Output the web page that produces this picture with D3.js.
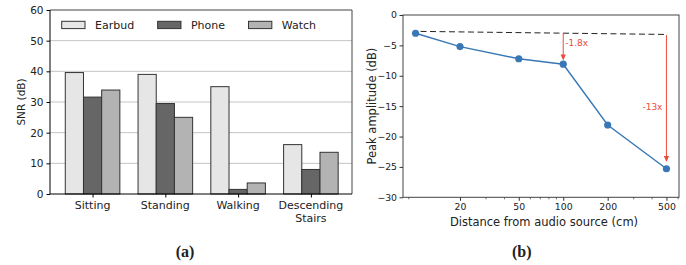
<!DOCTYPE html>
<html>
<head>
<meta charset="utf-8">
<script src="https://cdn.jsdelivr.net/npm/d3@7"></script>
<style>
  html, body { margin: 0; padding: 0; background: #fff; }
  svg { display: block; }
  text { font-family: "DejaVu Sans", sans-serif; fill: #222; }
</style>
</head>
<body>
<svg id="chart" width="686" height="265"></svg>
<script>
// ---------- data: panel (a) ----------
const categories = ["Sitting", "Standing", "Walking", "Descending\nStairs"];
const seriesNames = ["Earbud", "Phone", "Watch"];
const earbud = [39.6, 39.0, 35.0, 16.1];
const phone  = [31.6, 29.5, 1.5, 8.0];
const watch  = [33.9, 25.0, 3.6, 13.6];
const snrTicks = [0, 10, 20, 30, 40, 50, 60];

// ---------- data: panel (b) ----------
const distances = [10, 20, 50, 100, 200, 500];
const amplitude = [-3.0, -5.2, -7.2, -8.1, -18.1, -25.3];
const distTicks = [20, 50, 100, 200, 500];
const ampTicks = [0, -5, -10, -15, -20, -25, -30];
const refLineX = [10.8, 500];
const refLineY = [-2.7, -3.2];
const arrowX = [100, 500];
const arrowFrom = [-3.0, -3.3];
const arrowTo = [-7.5, -24.2];
const arrowLabels = ["-1.8x", "-13x"];

const captions = ["(a)", "(b)"];

const svg = d3.select("#chart");
const seriesData = [earbud, phone, watch];
const barFill = ["#e6e6e6", "#666666", "#b3b3b3"];
const red = "#ee4b3a";
const blue = "#3a78b5";

// ================= Panel (a) =================
{
  const L = 50, R = 352, T = 10, B = 194;
  const x = d3.scaleLinear().domain([-0.585, 3.565]).range([L, R]);
  const y = d3.scaleLinear().domain([0, 60]).range([B, T]);
  const g = svg.append("g");
  const bw = 0.25;

  // grid
  g.selectAll("line.grid").data(snrTicks.filter(d => d > 0 && d < 60)).join("line")
    .attr("x1", L).attr("x2", R)
    .attr("y1", d => y(d)).attr("y2", d => y(d))
    .attr("stroke", "#c4c4c4").attr("stroke-width", 1);

  // bars
  seriesData.forEach((vals, s) => {
    g.selectAll("rect.s" + s).data(vals).join("rect")
      .attr("x", (d, i) => x(i + (s - 1) * bw - bw / 2))
      .attr("width", (d, i) => x(bw) - x(0))
      .attr("y", d => y(d))
      .attr("height", d => y(0) - y(d))
      .attr("fill", barFill[s])
      .attr("stroke", "#333").attr("stroke-width", 1);
  });

  // spines
  g.append("line").attr("x1", L).attr("x2", R).attr("y1", T).attr("y2", T).attr("stroke", "#444");
  g.append("line").attr("x1", R).attr("x2", R).attr("y1", T).attr("y2", B).attr("stroke", "#444");
  g.append("line").attr("x1", L).attr("x2", L).attr("y1", T).attr("y2", B).attr("stroke", "#000");
  g.append("line").attr("x1", L).attr("x2", R).attr("y1", B).attr("y2", B).attr("stroke", "#000");

  // y axis
  const ya = g.append("g").attr("transform", `translate(${L},0)`)
    .call(d3.axisLeft(y).tickValues(snrTicks).tickSize(3.5).tickPadding(3).tickFormat(d3.format("d")));
  ya.select(".domain").remove();
  ya.selectAll("text").style("font-size", "10.5px").attr("fill", "#222");
  ya.selectAll(".tick line").attr("stroke", "#000");

  // x axis
  const xa = g.append("g").attr("transform", `translate(0,${B})`)
    .call(d3.axisBottom(x).tickValues(d3.range(categories.length)).tickSize(3.5).tickFormat(""));
  xa.select(".domain").remove();
  xa.selectAll(".tick line").attr("stroke", "#000");
  categories.forEach((c, i) => {
    const lines = c.split("\n");
    lines.forEach((ln, k) => {
      g.append("text").attr("x", x(i)).attr("y", 209 + k * 12.5)
        .attr("text-anchor", "middle").style("font-size", "11px").text(ln);
    });
  });

  // y label
  g.append("text").attr("transform", `translate(21.5,${(T + B) / 2}) rotate(-90)`)
    .attr("text-anchor", "middle").attr("dy", "0.35em").style("font-size", "10.5px").text("SNR (dB)");

  // legend
  let lx = 61.7;
  seriesNames.forEach((n, s) => {
    g.append("rect").attr("x", lx).attr("y", 21.3).attr("width", 23.3).attr("height", 7.3)
      .attr("fill", barFill[s]).attr("stroke", "#333").attr("stroke-width", 1);
    const t = g.append("text").attr("x", lx + 33.3).attr("y", 29).style("font-size", "11px").text(n);
    lx += 33.3 + t.node().getComputedTextLength() + 23.5;
  });

  svg.append("text").attr("x", 185).attr("y", 256.5).attr("text-anchor", "middle")
    .style("font-family", "'Liberation Serif', 'DejaVu Serif', serif").style("font-weight", "bold")
    .style("font-size", "16px").text(captions[0]);
}

// ================= Panel (b) =================
{
  const L = 403, R = 679, T = 15, B = 197.3;
  const x = d3.scaleLog().domain([Math.pow(10, 0.915), Math.pow(10, 2.784)]).range([L, R]);
  const y = d3.scaleLinear().domain([-30, 0]).range([B, T]);
  const g = svg.append("g");

  // frame
  g.append("rect").attr("x", L).attr("y", T).attr("width", R - L).attr("height", B - T)
    .attr("fill", "none").attr("stroke", "#444").attr("stroke-width", 1);

  // y axis
  const ya = g.append("g").attr("transform", `translate(${L},0)`)
    .call(d3.axisLeft(y).tickValues(ampTicks).tickSize(3.5).tickPadding(2.5)
      .tickFormat(d => d < 0 ? "\u2212" + Math.abs(d) : String(d)));
  ya.select(".domain").remove();
  ya.selectAll("text").style("font-size", "9.3px").attr("fill", "#222");
  ya.selectAll(".tick line").attr("stroke", "#333");

  // x minor ticks
  const minor = [9, 30, 40, 60, 70, 80, 90, 300, 400, 600];
  g.selectAll("line.minor").data(minor).join("line")
    .attr("x1", d => x(d)).attr("x2", d => x(d)).attr("y1", B).attr("y2", B + 2)
    .attr("stroke", "#333").attr("stroke-width", 0.7);
  const xa = g.append("g").attr("transform", `translate(0,${B})`)
    .call(d3.axisBottom(x).tickValues(distTicks).tickSize(3.5).tickPadding(2.5).tickFormat(d3.format("d")));
  xa.select(".domain").remove();
  xa.selectAll("text").style("font-size", "9.3px").attr("fill", "#222");
  xa.selectAll(".tick line").attr("stroke", "#333");

  // labels
  g.append("text").attr("x", (L + R) / 2 + 3).attr("y", 226).attr("text-anchor", "middle")
    .style("font-size", "11.5px").text("Distance from audio source (cm)");
  g.append("text").attr("transform", `translate(371.7,${(T + B) / 2}) rotate(-90)`)
    .attr("text-anchor", "middle").attr("dy", "0.35em").style("font-size", "11.5px").text("Peak amplitude (dB)");

  // reference dashed line
  g.append("line").attr("x1", x(refLineX[0])).attr("x2", x(refLineX[1]))
    .attr("y1", y(refLineY[0])).attr("y2", y(refLineY[1]))
    .attr("stroke", "#222").attr("stroke-width", 1).attr("stroke-dasharray", "6,3.5");

  // arrows
  arrowX.forEach((ax, i) => {
    const xx = x(ax), y0 = y(arrowFrom[i]), y1 = y(arrowTo[i]);
    g.append("line").attr("x1", xx).attr("x2", xx).attr("y1", y0).attr("y2", y1 - 5)
      .attr("stroke", red).attr("stroke-width", 1);
    g.append("path").attr("d", `M${xx - 2.6},${y1 - 6} L${xx + 2.6},${y1 - 6} L${xx},${y1} Z`).attr("fill", red);
  });
  g.append("text").attr("x", x(arrowX[0]) + 2).attr("y", y(-4.55)).attr("dy", "0.35em")
    .style("font-size", "9px").style("fill", red).text(arrowLabels[0]);
  g.append("text").attr("x", x(arrowX[1]) - 4).attr("y", y(-15.1)).attr("dy", "0.35em")
    .attr("text-anchor", "end").style("font-size", "9px").style("fill", red).text(arrowLabels[1]);

  // data line
  const pts = distances.map((d, i) => [d, amplitude[i]]);
  g.append("path").datum(pts)
    .attr("d", d3.line().x(d => x(d[0])).y(d => y(d[1])))
    .attr("fill", "none").attr("stroke", blue).attr("stroke-width", 1.4);
  g.selectAll("circle.pt").data(pts).join("circle")
    .attr("cx", d => x(d[0])).attr("cy", d => y(d[1])).attr("r", 3.6).attr("fill", blue);

  svg.append("text").attr("x", 521.7).attr("y", 256.5).attr("text-anchor", "middle")
    .style("font-family", "'Liberation Serif', 'DejaVu Serif', serif").style("font-weight", "bold")
    .style("font-size", "16px").text(captions[1]);
}
</script>
</body>
</html>
